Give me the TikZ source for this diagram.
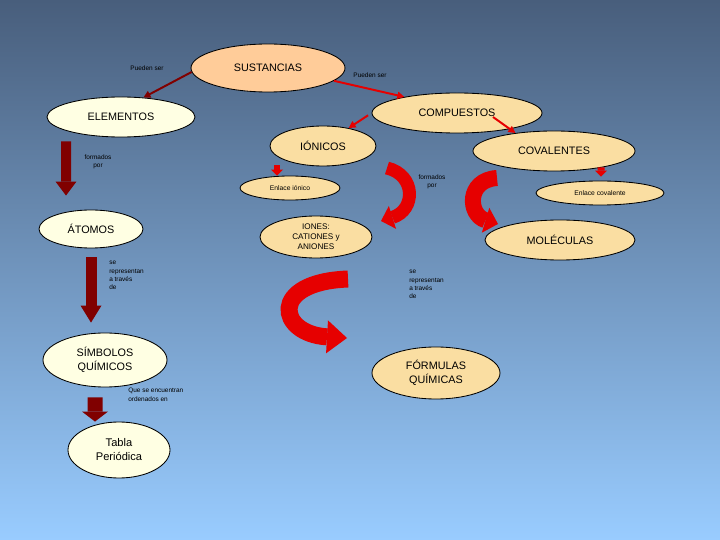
\documentclass[tikz,border=0pt]{standalone}
\usepackage{fontspec}
\setmainfont{Liberation Sans}
\usetikzlibrary{arrows.meta,shapes.geometric,positioning}
\definecolor{bgtop}{RGB}{72,94,124}
\definecolor{bgbottom}{RGB}{153,204,255}
\definecolor{peach}{RGB}{255,204,153}
\definecolor{cream}{RGB}{255,255,227}
\definecolor{wheat}{RGB}{250,222,162}
\definecolor{maroon}{RGB}{128,0,0}
\definecolor{brightred}{RGB}{230,0,0}

\begin{document}
\begin{tikzpicture}[
oval/.style={ellipse, draw=black, line width=0.6pt, inner sep=0pt, align=center, font=\fontsize{7.7}{9.5}\selectfont},
smalloval/.style={oval, font=\fontsize{4.8}{6}\selectfont},
tiny/.style={inner sep=0pt, align=center, font=\fontsize{4.6}{5.9}\selectfont},
thinflow/.style={line width=1.4pt, -{Triangle[width=5pt,length=5pt]}},
blockflow/.style n args={3}{line width=#1, -{Triangle[width=#2,length=#3,line width=0pt]}},
curveflow/.style n args={3}{brightred, line width=#1, -{Triangle[width=#2,length=#3,line width=0pt]}}
]
\useasboundingbox (0,0) rectangle (18,13.5);
\shade[top color=bgtop, bottom color=bgbottom] (0,0) rectangle (18,13.5);

\node[oval, fill=peach, minimum width=3.85cm, minimum height=1.2cm] (sust) at (6.7,11.8) {SUSTANCIAS};
\node[oval, fill=cream, minimum width=3.7cm, minimum height=1cm] (elem) at (3.025,10.575) {ELEMENTOS};
\node[oval, fill=wheat, minimum width=4.25cm, minimum height=1cm] (comp) at (11.425,10.675) {COMPUESTOS};
\node[oval, fill=wheat, minimum width=2.65cm, minimum height=1cm] (ion) at (8.075,9.85) {IÓNICOS};
\node[oval, fill=wheat, minimum width=4.05cm, minimum height=1cm] (cov) at (13.85,9.725) {COVALENTES};
\node[smalloval, fill=wheat, minimum width=2.5cm, minimum height=0.6cm] (enlion) at (7.25,8.8) {Enlace iónico};
\node[smalloval, fill=wheat, minimum width=3.2cm, minimum height=0.6cm] (enlcov) at (15.0,8.675) {Enlace covalente};
\node[oval, fill=cream, minimum width=2.6cm, minimum height=0.95cm] (atom) at (2.275,7.775) {ÁTOMOS};
\node[oval, fill=wheat, minimum width=2.8cm, minimum height=1.05cm, font=\fontsize{5.8}{7}\selectfont] (iones) at (7.9,7.575) {IONES:\\CATIONES y\\ANIONES};
\node[oval, fill=wheat, minimum width=3.75cm, minimum height=1cm] (mol) at (14.0,7.5) {MOLÉCULAS};
\node[oval, fill=cream, minimum width=3.1cm, minimum height=1.35cm] (simb) at (2.625,4.5) {SÍMBOLOS\\QUÍMICOS};
\node[oval, fill=wheat, minimum width=3.2cm, minimum height=1.3cm] (form) at (10.9,4.175) {FÓRMULAS\\QUÍMICAS};
\node[oval, fill=cream, minimum width=2.55cm, minimum height=1.4cm, font=\fontsize{7.9}{10}\selectfont] (tabla) at (2.975,2.25) {Tabla\\Periódica};

\node[tiny] (pueden1) at (3.675,11.8) {Pueden ser};
\node[tiny] (pueden2) at (9.25,11.625) {Pueden ser};
\node[tiny] (formados1) at (2.45,9.45) {formados\\por};
\node[tiny] (formados2) at (10.8,8.95) {formados\\por};
\node[tiny, align=left, anchor=north west] (repr1) at (2.725,6.975) {se\\representan\\a través\\de};
\node[tiny, align=left, anchor=north west] (repr2) at (10.225,6.75) {se\\representan\\a través\\de};
\node[tiny, align=left, anchor=north west] (orden) at (3.2,3.8) {Que se encuentran\\ordenados en};

\draw[thinflow, maroon] (sust.183) -- (elem.41);
\draw[thinflow, brightred] (sust.349) -- (comp.163);
\draw[thinflow, brightred] ([xshift=0.9cm,yshift=-0.1cm]comp.center) -- (cov.155);
\draw[thinflow, brightred, shorten <=3pt] (comp.west) -- (ion.35);

\draw[blockflow={0.25cm}{0.525cm}{0.35cm}, maroon] ([xshift=-1.375cm,yshift=-0.1cm]elem.south) -- ([xshift=-0.625cm,yshift=0.35cm]atom.north);
\draw[blockflow={0.275cm}{0.525cm}{0.425cm}, maroon] ([yshift=-0.225cm]atom.south) -- ([xshift=-0.35cm,yshift=0.25cm]simb.north);
\draw[blockflow={0.375cm}{0.65cm}{0.25cm}, maroon] ([xshift=-0.25cm,yshift=-0.25cm]simb.south) -- ([xshift=-0.6cm]tabla.north);
\draw[blockflow={0.15cm}{0.3cm}{0.15cm}, brightred] ([xshift=-1.15cm,yshift=0.025cm]ion.south) -- ([xshift=-0.325cm]enlion.north);
\draw[blockflow={0.175cm}{0.3cm}{0.15cm}, brightred] ([xshift=1.175cm,yshift=0.1cm]cov.south) -- ([xshift=0.025cm,yshift=0.1cm]enlcov.north);

\draw[curveflow={0.325cm}{0.6cm}{0.3cm}] (9.675,9.3) .. controls (10.4,9.125) and (10.4,8.25) .. (9.525,7.975);
\draw[curveflow={0.4cm}{0.65cm}{0.325cm}] (12.425,9.05) .. controls (11.65,9.0) and (11.7,8.125) .. (12.45,7.9);
\draw[curveflow={0.425cm}{0.825cm}{0.5cm}] (8.7,6.525) .. controls (6.7,6.45) and (6.95,5.15) .. (8.675,5.05);
\end{tikzpicture}
\end{document}
